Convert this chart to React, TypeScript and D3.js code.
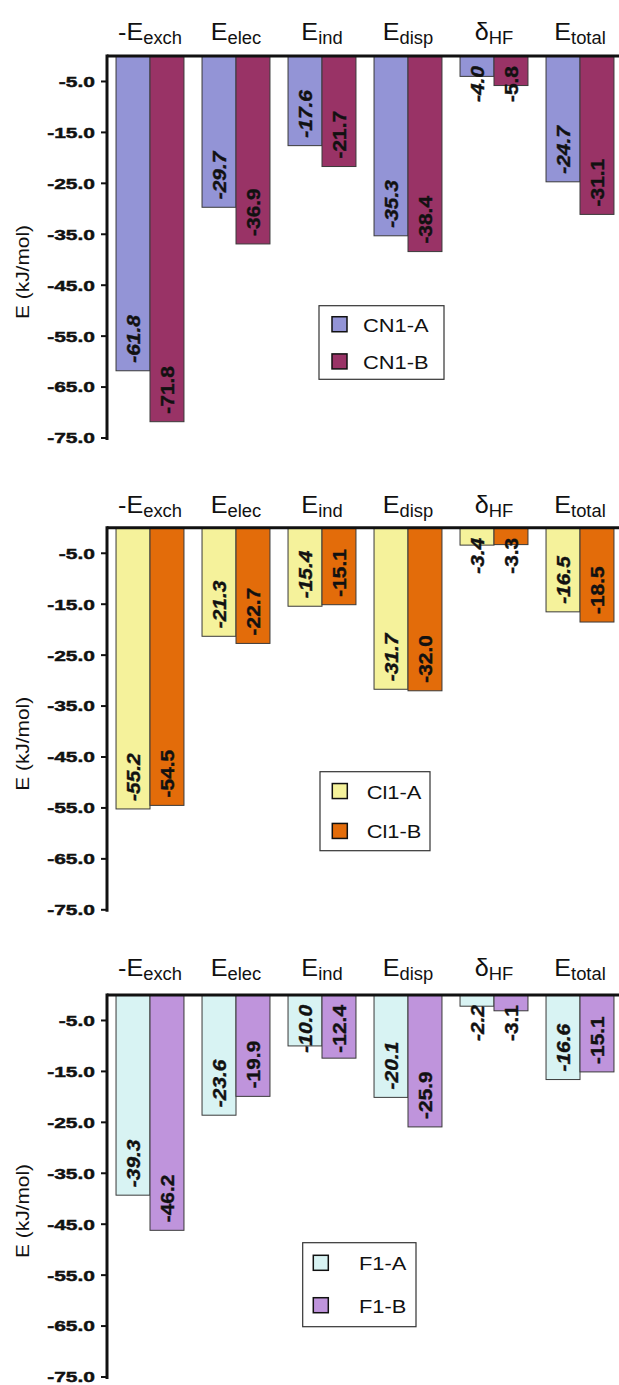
import * as React from "react";
import * as d3 from "d3";

const CATEGORIES = ["exch", "elec", "ind", "disp", "HF", "total"];
const CAT_PREFIX = ["-E", "E", "E", "E", "δ", "E"];

const Y_TICKS = [-5, -15, -25, -35, -45, -55, -65, -75];

const CN1_A = [-61.8, -29.7, -17.6, -35.3, -4.0, -24.7];
const CN1_B = [-71.8, -36.9, -21.7, -38.4, -5.8, -31.1];
const CL1_A = [-55.2, -21.3, -15.4, -31.7, -3.4, -16.5];
const CL1_B = [-54.5, -22.7, -15.1, -32.0, -3.3, -18.5];
const F1_A = [-39.3, -23.6, -10.0, -20.1, -2.2, -16.6];
const F1_B = [-46.2, -19.9, -12.4, -25.9, -3.1, -15.1];

interface Panel {
  names: [string, string];
  a: number[];
  b: number[];
  colors: [string, string];
  y0: number;
  titleDy: number;
  legend: { x: number; y: number; w: number; h: number; sx: number; tx: number };
}

const PANELS: Panel[] = [
  {
    names: ["CN1-A", "CN1-B"],
    a: CN1_A,
    b: CN1_B,
    colors: ["#9394d6", "#993366"],
    y0: 56,
    titleDy: -16.5,
    legend: { x: 319, y: 305.7, w: 125, h: 73.6, sx: 13, tx: 44 },
  },
  {
    names: ["Cl1-A", "Cl1-B"],
    a: CL1_A,
    b: CL1_B,
    colors: ["#f5f29b", "#e36c0a"],
    y0: 527.8,
    titleDy: -14.5,
    legend: { x: 320, y: 771.7, w: 110, h: 79, sx: 12.3, tx: 46.7 },
  },
  {
    names: ["F1-A", "F1-B"],
    a: F1_A,
    b: F1_B,
    colors: ["#d8f3f3", "#bf94dc"],
    y0: 995,
    titleDy: -19,
    legend: { x: 302.7, y: 1242.7, w: 113.3, h: 84, sx: 10.6, tx: 56.3 },
  },
];

const W = 619;
const H = 1385;
const AXIS_X = 107;
const PLOT_H = 382;
const FONT = "'Liberation Sans', Arial, Helvetica, sans-serif";

const LABEL_SIZE = 19;
const LABEL_STRETCH = 1.1;
const charW: Record<string, number> = { "-": 0.333, ".": 0.278 };
function labelLength(s: string) {
  let em = 0;
  for (const c of s) em += charW[c] ?? 0.556;
  return em * LABEL_SIZE * LABEL_STRETCH;
}

function ChartPanel({ panel }: { panel: Panel }) {
  const x = d3
    .scaleBand<string>()
    .domain(CATEGORIES)
    .range([AXIS_X, AXIS_X + CATEGORIES.length * 86])
    .paddingInner(0.21)
    .paddingOuter(0.105);
  const xs = d3.scaleBand<number>().domain([0, 1]).range([0, x.bandwidth()]);
  const y = d3.scaleLinear().domain([0, -75]).range([panel.y0, panel.y0 + PLOT_H]);
  const y0 = y(0);
  const series = [panel.a, panel.b];
  const lg = panel.legend;

  return (
    <g>
      {/* category titles */}
      {CATEGORIES.map((c, i) => (
        <text
          key={c}
          transform={`translate(${(x(c) ?? 0) + x.bandwidth() / 2},${y0 + panel.titleDy}) scale(1.05,1)`}
          textAnchor="middle"
          fontFamily={FONT}
          fontSize={24}
          fill="#111"
        >
          {CAT_PREFIX[i]}
          <tspan fontSize={17.5} dy={4}>
            {c}
          </tspan>
        </text>
      ))}

      {/* bars */}
      {series.map((vals, si) =>
        vals.map((v, i) => {
          const bx = (x(CATEGORIES[i]) ?? 0) + (xs(si) ?? 0);
          const bw = xs.bandwidth();
          return (
            <rect
              key={`${si}-${i}`}
              x={bx}
              y={y0}
              width={bw}
              height={y(v) - y0}
              fill={panel.colors[si]}
              stroke="#3a3a3a"
              strokeWidth={1}
            />
          );
        })
      )}

      {/* bar value labels */}
      {series.map((vals, si) =>
        vals.map((v, i) => {
          const cx = (x(CATEGORIES[i]) ?? 0) + (xs(si) ?? 0) + xs.bandwidth() / 2;
          const txt = v.toFixed(1);
          const len = labelLength(txt);
          const start = Math.max(y(v) - 8, y0 + 10 + len);
          return (
            <text
              key={`l${si}-${i}`}
              transform={`translate(${cx},${start}) rotate(-90) scale(${LABEL_STRETCH},1)`}
              dy="0.36em"
              fontFamily={FONT}
              fontSize={LABEL_SIZE}
              fontWeight="bold"
              fontStyle={si === 0 ? "italic" : "normal"}
              fill="#111"
              stroke="#111"
              strokeWidth={0.4}
            >
              {txt}
            </text>
          );
        })
      )}

      {/* axes */}
      <line x1={AXIS_X} x2={W} y1={y0} y2={y0} stroke="#111" strokeWidth={3} />
      <line
        x1={AXIS_X}
        x2={AXIS_X}
        y1={y0 - 1.5}
        y2={y(-75) + 2}
        stroke="#111"
        strokeWidth={3}
      />
      {Y_TICKS.map((t) => (
        <g key={t} transform={`translate(${AXIS_X},${y(t)})`}>
          <line x1={-6} x2={0} stroke="#111" strokeWidth={2} />
          <text
            transform="translate(-12,0) scale(1.4,1)"
            dy="0.36em"
            textAnchor="end"
            fontFamily={FONT}
            fontSize={15}
            fontWeight="bold"
            fill="#111"
            stroke="#111"
            strokeWidth={0.45}
          >
            {t.toFixed(1)}
          </text>
        </g>
      ))}
      <text
        transform={`translate(29,${y0 + 216}) rotate(-90) scale(1.1,1)`}
        textAnchor="middle"
        fontFamily={FONT}
        fontSize={19}
        fill="#111"
      >
        E (kJ/mol)
      </text>

      {/* legend */}
      <rect x={lg.x} y={lg.y} width={lg.w} height={lg.h} fill="#fff" stroke="#333" strokeWidth={1.2} />
      {panel.names.map((n, k) => {
        const sy = lg.y + lg.h * (k === 0 ? 0.15 : 0.655);
        return (
          <g key={n}>
            <rect
              x={lg.x + lg.sx}
              y={sy}
              width={15}
              height={15}
              fill={panel.colors[k]}
              stroke="#111"
              strokeWidth={1.5}
            />
            <text
              transform={`translate(${lg.x + lg.tx},${sy + 15}) scale(1.15,1)`}
              fontFamily={FONT}
              fontSize={19}
              fill="#111"
            >
              {n}
            </text>
          </g>
        );
      })}
    </g>
  );
}

export default function App() {
  return (
    <svg
      width={W}
      height={H}
      style={{ position: "absolute", left: 0, top: 0, display: "block", background: "#fff" }}
    >
      <rect width={W} height={H} fill="#fff" />
      {PANELS.map((p) => (
        <ChartPanel key={p.names[0]} panel={p} />
      ))}
    </svg>
  );
}
